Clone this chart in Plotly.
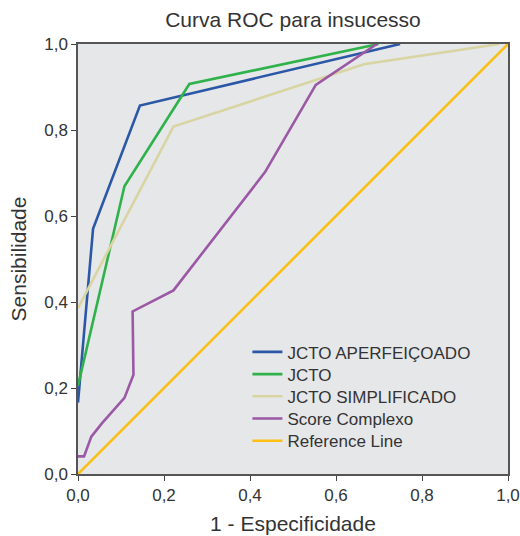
import plotly.graph_objects as go

# ROC curves: (1 - specificity, sensitivity) pairs per score
aperf_x = [0.0, 0.035, 0.144, 0.749]
aperf_y = [0.166, 0.570, 0.857, 1.0]

jcto_x = [0.0, 0.108, 0.259, 0.699]
jcto_y = [0.205, 0.669, 0.907, 1.0]

simpl_x = [0.0, 0.222, 0.665, 0.98]
simpl_y = [0.386, 0.808, 0.953, 1.0]

complexo_x = [0.0, 0.014, 0.031, 0.055, 0.108, 0.129, 0.127, 0.222, 0.435, 0.553, 0.695]
complexo_y = [0.041, 0.041, 0.087, 0.117, 0.177, 0.231, 0.378, 0.427, 0.702, 0.905, 1.0]

ref_x = [0.0, 1.0]
ref_y = [0.0, 1.0]

tick_vals = [0.0, 0.2, 0.4, 0.6, 0.8, 1.0]
tick_text = ["0,0", "0,2", "0,4", "0,6", "0,8", "1,0"]

series = [
    ("JCTO APERFEIÇOADO", aperf_x, aperf_y, "#2b58a6"),
    ("JCTO", jcto_x, jcto_y, "#2fb24b"),
    ("JCTO SIMPLIFICADO", simpl_x, simpl_y, "#d8d5a3"),
    ("Score Complexo", complexo_x, complexo_y, "#9a58a5"),
    ("Reference Line", ref_x, ref_y, "#fcbf12"),
]

FONT = "Liberation Sans, Arial, sans-serif"
TXT = "#333"

# one legend box per entry so the rows sit on a tight, even pitch
LEGEND_TOP = 0.283
LEGEND_STEP = 0.0517

fig = go.Figure()
legends = {}
for i, (name, xs, ys, color) in enumerate(series):
    key = "legend" if i == 0 else f"legend{i + 1}"
    fig.add_trace(go.Scatter(
        x=xs, y=ys, mode="lines", name=name, legend=key,
        line=dict(color=color, width=2.6),
    ))
    legends[key] = dict(
        x=0.394, y=LEGEND_TOP - i * LEGEND_STEP,
        xanchor="left", yanchor="middle",
        bgcolor="rgba(0,0,0,0)",
        borderwidth=0,
        font=dict(family=FONT, size=17, color=TXT),
        itemwidth=30,
    )

axis_common = dict(
    range=[0, 1],
    tickvals=tick_vals,
    ticktext=tick_text,
    ticks="outside",
    ticklen=5,
    tickwidth=1,
    tickcolor="#444",
    showline=True,
    linecolor="#555",
    linewidth=1.5,
    mirror=True,
    showgrid=False,
    zeroline=False,
    automargin=False,
    tickfont=dict(family=FONT, size=17, color=TXT),
)

fig.update_layout(
    width=520,
    height=536,
    margin=dict(l=78, r=12, t=44, b=62),
    paper_bgcolor="white",
    plot_bgcolor="#e6e7e9",
    font=dict(family=FONT, color=TXT),
    title=dict(
        text="Curva ROC para insucesso",
        x=0.5, xanchor="center", xref="paper",
        y=0.963, yanchor="middle",
        font=dict(family=FONT, size=21, color=TXT),
    ),
    xaxis=dict(**axis_common, title=dict(text="1 - Especificidade",
                                         font=dict(family=FONT, size=21, color=TXT),
                                         standoff=12)),
    yaxis=dict(**axis_common, title=dict(text="Sensibilidade",
                                         font=dict(family=FONT, size=21, color=TXT),
                                         standoff=12)),
    showlegend=True,
    **legends,
)

fig.write_html("out.html")
